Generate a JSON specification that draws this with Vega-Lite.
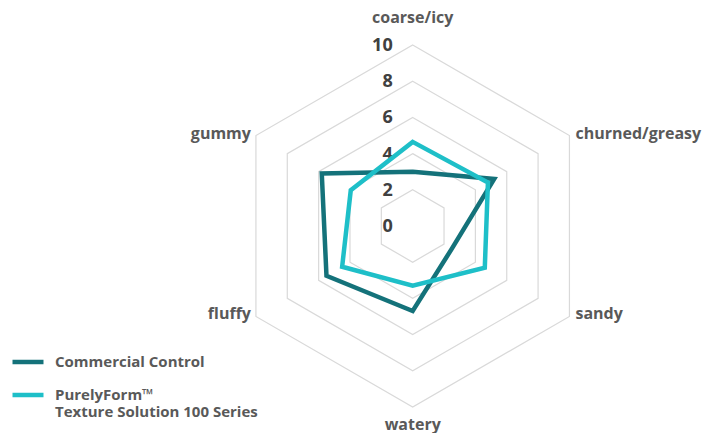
{
  "$schema": "https://vega.github.io/schema/vega-lite/v6.json",
  "width": 707,
  "height": 433,
  "padding": 0,
  "autosize": {"type": "none"},
  "background": "white",
  "config": {"view": {"stroke": null}, "font": "Open Sans", "style": {"guide-label": {"lineHeight": 17}}},
  "datasets": {
    "series": [
      {"series": "Commercial Control", "attribute": "coarse/icy", "idx": 0, "value": 3.0},
      {"series": "Commercial Control", "attribute": "churned/greasy", "idx": 1, "value": 5.2},
      {"series": "Commercial Control", "attribute": "sandy", "idx": 2, "value": 2.5},
      {"series": "Commercial Control", "attribute": "watery", "idx": 3, "value": 4.7},
      {"series": "Commercial Control", "attribute": "fluffy", "idx": 4, "value": 5.5},
      {"series": "Commercial Control", "attribute": "gummy", "idx": 5, "value": 5.8},
      {"series": "PurelyForm™ Texture Solution 100 Series", "attribute": "coarse/icy", "idx": 0, "value": 4.65},
      {"series": "PurelyForm™ Texture Solution 100 Series", "attribute": "churned/greasy", "idx": 1, "value": 4.8},
      {"series": "PurelyForm™ Texture Solution 100 Series", "attribute": "sandy", "idx": 2, "value": 4.6},
      {"series": "PurelyForm™ Texture Solution 100 Series", "attribute": "watery", "idx": 3, "value": 3.3},
      {"series": "PurelyForm™ Texture Solution 100 Series", "attribute": "fluffy", "idx": 4, "value": 4.5},
      {"series": "PurelyForm™ Texture Solution 100 Series", "attribute": "gummy", "idx": 5, "value": 3.95}
    ],
    "grid": [
      {"level": 2, "idx": 0}, {"level": 2, "idx": 1}, {"level": 2, "idx": 2}, {"level": 2, "idx": 3}, {"level": 2, "idx": 4}, {"level": 2, "idx": 5},
      {"level": 4, "idx": 0}, {"level": 4, "idx": 1}, {"level": 4, "idx": 2}, {"level": 4, "idx": 3}, {"level": 4, "idx": 4}, {"level": 4, "idx": 5},
      {"level": 6, "idx": 0}, {"level": 6, "idx": 1}, {"level": 6, "idx": 2}, {"level": 6, "idx": 3}, {"level": 6, "idx": 4}, {"level": 6, "idx": 5},
      {"level": 8, "idx": 0}, {"level": 8, "idx": 1}, {"level": 8, "idx": 2}, {"level": 8, "idx": 3}, {"level": 8, "idx": 4}, {"level": 8, "idx": 5},
      {"level": 10, "idx": 0}, {"level": 10, "idx": 1}, {"level": 10, "idx": 2}, {"level": 10, "idx": 3}, {"level": 10, "idx": 4}, {"level": 10, "idx": 5}
    ],
    "ticks": [
      {"tick": 0}, {"tick": 2}, {"tick": 4}, {"tick": 6}, {"tick": 8}, {"tick": 10}
    ],
    "attrs": [
      {"attribute": "coarse/icy", "idx": 0},
      {"attribute": "churned/greasy", "idx": 1},
      {"attribute": "sandy", "idx": 2},
      {"attribute": "watery", "idx": 3},
      {"attribute": "fluffy", "idx": 4},
      {"attribute": "gummy", "idx": 5}
    ]
  },
  "layer": [
    {
      "data": {"name": "grid"},
      "transform": [
        {"calculate": "PI/2 - datum.idx*PI/3", "as": "ang"},
        {"calculate": "datum.level*cos(datum.ang)", "as": "x"},
        {"calculate": "datum.level*sin(datum.ang)", "as": "y"}
      ],
      "mark": {"type": "line", "interpolate": "linear-closed", "stroke": "#d9d9d9", "strokeWidth": 1.2},
      "encoding": {
        "x": {"field": "x", "type": "quantitative", "scale": {"domain": [-22.8, 16.26], "nice": false, "zero": false}, "axis": null},
        "y": {"field": "y", "type": "quantitative", "scale": {"domain": [-11.44, 12.49], "nice": false, "zero": false}, "axis": null},
        "detail": {"field": "level"},
        "order": {"field": "idx"}
      }
    },
    {
      "data": {"name": "ticks"},
      "mark": {"type": "text", "align": "right", "baseline": "middle", "dx": -20, "dy": 1, "fontSize": 18, "fontWeight": "bold", "color": "#404040"},
      "encoding": {
        "x": {"datum": 0, "type": "quantitative"},
        "y": {"field": "tick", "type": "quantitative"},
        "text": {"field": "tick"}
      }
    },
    {
      "data": {"name": "series"},
      "transform": [
        {"calculate": "PI/2 - datum.idx*PI/3", "as": "ang"},
        {"calculate": "datum.value*cos(datum.ang)", "as": "x"},
        {"calculate": "datum.value*sin(datum.ang)", "as": "y"}
      ],
      "mark": {"type": "line", "interpolate": "linear-closed", "strokeWidth": 4.5, "strokeJoin": "miter"},
      "encoding": {
        "x": {"field": "x", "type": "quantitative"},
        "y": {"field": "y", "type": "quantitative"},
        "order": {"field": "idx"},
        "color": {
          "field": "series",
          "type": "nominal",
          "scale": {"domain": ["Commercial Control", "PurelyForm™ Texture Solution 100 Series"], "range": ["#14727a", "#1ebfc8"]},
          "legend": {
            "title": null,
            "orient": "none",
            "legendX": 10,
            "legendY": 344,
            "symbolType": "stroke",
            "symbolSize": 961,
            "symbolStrokeWidth": 4.5,
            "labelFont": "Open Sans",
            "labelFontSize": 15,
            "labelFontWeight": "bold",
            "labelColor": "#595959",
            "labelOffset": 9,
            "labelLimit": 300,
            "rowPadding": 6,
            "labelExpr": "datum.label == 'Commercial Control' ? datum.label : ['PurelyForm™', 'Texture Solution 100 Series']"
          }
        }
      }
    },
    {
      "data": {"name": "attrs"},
      "transform": [
        {"filter": "datum.idx == 0 || datum.idx == 3"},
        {"calculate": "PI/2 - datum.idx*PI/3", "as": "ang"},
        {"calculate": "10*cos(datum.ang)", "as": "x"},
        {"calculate": "10*sin(datum.ang) + (datum.idx == 0 ? 1.5 : -1.0)", "as": "y"}
      ],
      "mark": {"type": "text", "align": "center", "baseline": "middle", "fontSize": 16, "fontWeight": "bold", "color": "#595959"},
      "encoding": {
        "x": {"field": "x", "type": "quantitative"},
        "y": {"field": "y", "type": "quantitative"},
        "text": {"field": "attribute"}
      }
    },
    {
      "data": {"name": "attrs"},
      "transform": [
        {"filter": "datum.idx == 1 || datum.idx == 2"},
        {"calculate": "PI/2 - datum.idx*PI/3", "as": "ang"},
        {"calculate": "10*cos(datum.ang)", "as": "x"},
        {"calculate": "10*sin(datum.ang)", "as": "y"}
      ],
      "mark": {"type": "text", "align": "left", "baseline": "middle", "dx": 6, "dy": -2, "fontSize": 16, "fontWeight": "bold", "color": "#595959"},
      "encoding": {
        "x": {"field": "x", "type": "quantitative"},
        "y": {"field": "y", "type": "quantitative"},
        "text": {"field": "attribute"}
      }
    },
    {
      "data": {"name": "attrs"},
      "transform": [
        {"filter": "datum.idx == 4 || datum.idx == 5"},
        {"calculate": "PI/2 - datum.idx*PI/3", "as": "ang"},
        {"calculate": "10*cos(datum.ang)", "as": "x"},
        {"calculate": "10*sin(datum.ang)", "as": "y"}
      ],
      "mark": {"type": "text", "align": "right", "baseline": "middle", "dx": -5, "dy": -2, "fontSize": 16, "fontWeight": "bold", "color": "#595959"},
      "encoding": {
        "x": {"field": "x", "type": "quantitative"},
        "y": {"field": "y", "type": "quantitative"},
        "text": {"field": "attribute"}
      }
    }
  ]
}
